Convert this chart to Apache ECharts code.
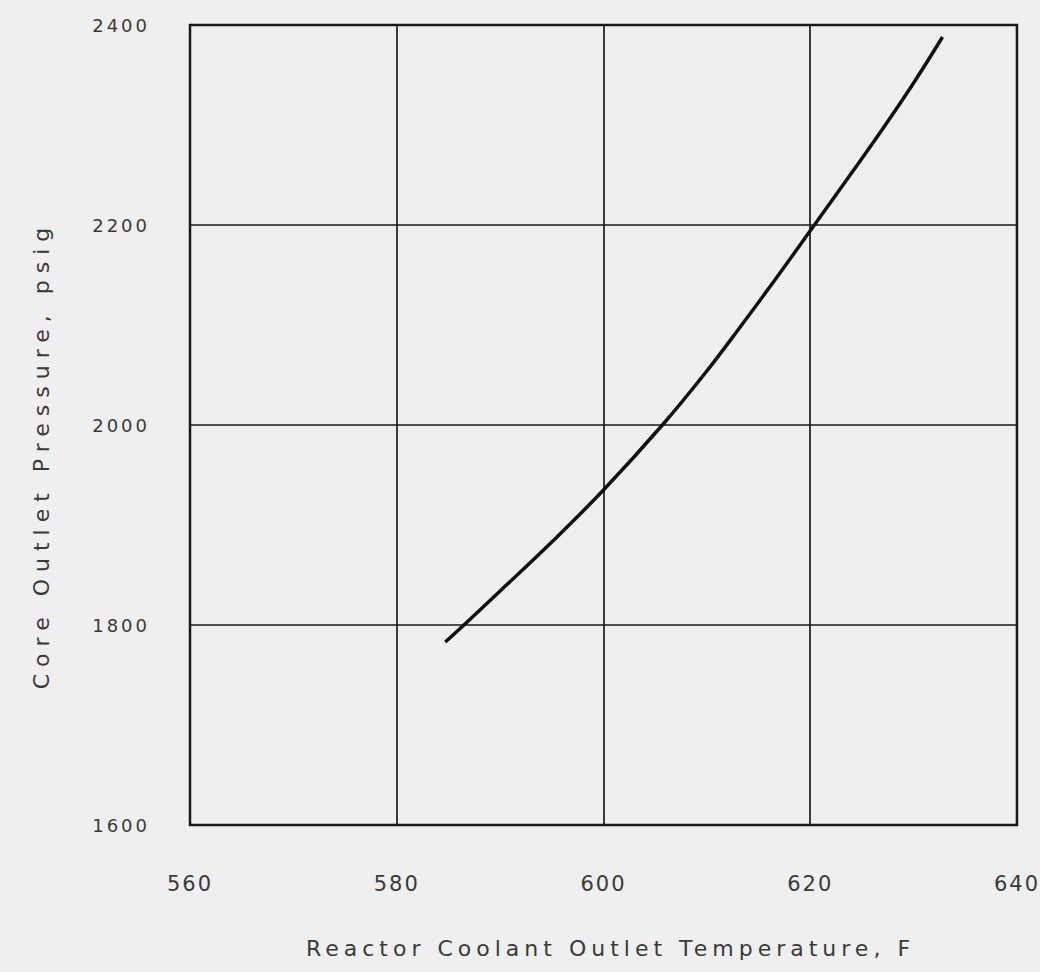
<!DOCTYPE html>
<html>
<head>
<meta charset="utf-8">
<script src="https://cdn.jsdelivr.net/npm/echarts@6/dist/echarts.min.js"></script>
<style>
  html, body { margin: 0; padding: 0; background: #efefef; }
  #chart { width: 1040px; height: 972px; }
</style>
</head>
<body>
<div id="chart"></div>
<script>
// Reactor coolant outlet temperature (F)
const temperatureF = [584.7, 586.5, 590, 595, 600, 605.7, 610, 613.3, 617, 620.4, 624, 627, 630, 632.8];
// Core outlet pressure (psig)
const pressurePsig = [1783, 1800, 1834, 1883, 1935, 2000, 2054, 2099, 2151, 2200, 2252, 2296, 2342, 2388];

const xTicks = [560, 580, 600, 620, 640];
const yTicks = [1600, 1800, 2000, 2200, 2400];
const xTitle = 'Reactor Coolant Outlet Temperature, F';
const yTitle = 'Core Outlet Pressure, psig';

const curve = temperatureF.map((t, i) => [t, pressurePsig[i]]);
const font = '"DejaVu Sans", sans-serif';

const chart = echarts.init(document.getElementById('chart'), null, { renderer: 'svg' });
const ink = '#1a1a1a';
chart.setOption({
  backgroundColor: '#efefef',
  animation: false,
  grid: { left: 190, right: 21, top: 25, bottom: 147, show: true, borderColor: ink, borderWidth: 2.5, backgroundColor: 'transparent' },
  xAxis: {
    type: 'value',
    min: xTicks[0], max: xTicks[xTicks.length - 1], interval: 20,
    axisLine: { show: false },
    axisTick: { show: false },
    splitLine: { show: true, lineStyle: { color: ink, width: 1.7 } },
    axisLabel: { color: '#3a3a3a', fontSize: 21, fontFamily: font, margin: 48, formatter: v => String(v) },
    name: xTitle,
    nameLocation: 'middle',
    nameGap: 112,
    nameTextStyle: { color: '#3a3a3a', fontSize: 22, fontFamily: font, padding: [0, 0, 0, 14] }
  },
  yAxis: {
    type: 'value',
    min: yTicks[0], max: yTicks[yTicks.length - 1], interval: 200,
    axisLine: { show: false },
    axisTick: { show: false },
    splitLine: { show: true, lineStyle: { color: ink, width: 1.7 } },
    axisLabel: { color: '#3a3a3a', fontSize: 18, fontFamily: font, margin: 40, formatter: v => String(v) },
    name: yTitle,
    nameLocation: 'middle',
    nameGap: 138,
    nameRotate: 90,
    nameTextStyle: { color: '#3a3a3a', fontSize: 22, fontFamily: font, padding: [0, 60, 0, 0] }
  },
  series: [{
    type: 'line',
    data: curve,
    smooth: 0.4,
    showSymbol: false,
    lineStyle: { color: '#111', width: 3.5 }
  }]
});

function spaceText() {
  document.querySelectorAll('#chart text').forEach(el => {
    const t = el.textContent;
    if (t === xTitle) el.style.letterSpacing = '5px';
    else if (t === yTitle) el.style.letterSpacing = '7px';
    else if (t.length === 4) el.style.letterSpacing = '3px';
    else el.style.letterSpacing = '2px';
  });
}
spaceText();
chart.on('finished', spaceText);
</script>
</body>
</html>
